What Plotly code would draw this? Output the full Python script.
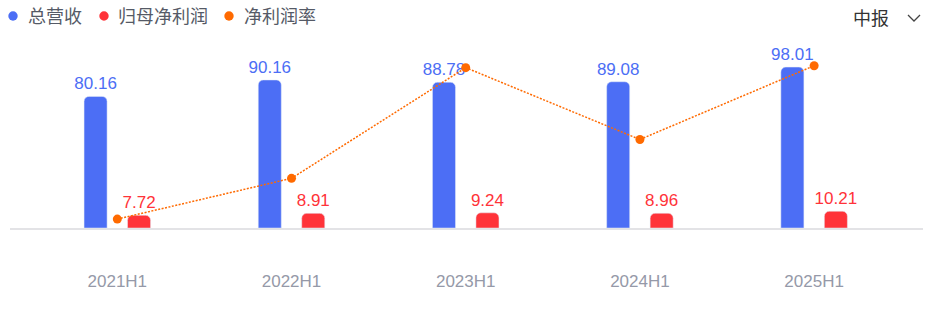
import plotly.graph_objects as go

categories = ["2021H1", "2022H1", "2023H1", "2024H1", "2025H1"]
revenue = [80.16, 90.16, 88.78, 89.08, 98.01]
net_profit = [7.72, 8.91, 9.24, 8.96, 10.21]
net_margin = [9.63, 9.84, 10.41, 10.04, 10.42]

legend_names = ["总营收", "归母净利润", "净利润率"]

BLUE = "#4C6EF5"
RED = "#FF3339"
ORANGE = "#FF6A00"
FONT = "Arial, Liberation Sans, Noto Sans CJK SC, sans-serif"

W, H = 925, 309
L, R, T, B = 10, 2, 30, 81
PW, PH = W - L - R, H - T - B

def px_x(px):
    return (px - L) / PW

def px_y(py):
    return (H - B - py) / PH

fig = go.Figure()
fig.add_trace(go.Bar(
    x=categories, y=revenue, name=legend_names[0], marker=dict(color=BLUE, cornerradius=5),
    texttemplate="%{y:.2f}", textposition="outside", constraintext="none",
    textfont=dict(color=BLUE, size=17, family=FONT), cliponaxis=False, showlegend=False,
))
fig.add_trace(go.Bar(
    x=categories, y=net_profit, name=legend_names[1], marker=dict(color=RED, cornerradius=5),
    texttemplate="%{y:.2f}", textposition="outside", constraintext="none",
    textfont=dict(color=RED, size=17, family=FONT), cliponaxis=False, showlegend=False,
))
fig.add_trace(go.Scatter(
    x=categories, y=net_margin, name=legend_names[2], yaxis="y2", mode="lines+markers",
    line=dict(color=ORANGE, width=1.5, dash="2px,1.5px"),
    marker=dict(color=ORANGE, size=9), showlegend=False, cliponaxis=False,
))

# manual legend
legend_dots = [13, 104, 229]
legend_text_x = [26, 116, 242]
legend_colors = [BLUE, RED, ORANGE]
shapes = []
annotations = []
for name, dx, tx, c in zip(legend_names, legend_dots, legend_text_x, legend_colors):
    shapes.append(dict(type="circle", xref="paper", yref="paper", xsizemode="pixel", ysizemode="pixel",
                       xanchor=px_x(dx), yanchor=px_y(16), x0=-4.7, x1=4.7, y0=-4.7, y1=4.7,
                       fillcolor=c, line=dict(width=0)))
    annotations.append(dict(text=name, xref="paper", yref="paper", x=px_x(tx), y=px_y(17),
                            xanchor="left", yanchor="middle", showarrow=False,
                            font=dict(size=18, color="#555a66", family=FONT)))

annotations.append(dict(text="中报", xref="paper", yref="paper", x=px_x(871), y=px_y(19),
                        xanchor="center", yanchor="middle", showarrow=False,
                        font=dict(size=18, color="#333333", family=FONT)))
shapes.append(dict(type="path", xref="paper", yref="paper",
                   path=f"M {px_x(908)} {px_y(15)} L {px_x(914)} {px_y(21)} L {px_x(920)} {px_y(15)}",
                   line=dict(color="#444444", width=1.3)))

fig.update_layout(
    width=W, height=H, margin=dict(l=L, r=R, t=T, b=B),
    paper_bgcolor="white", plot_bgcolor="white",
    barmode="group", bargap=0.5008, bargroupgap=0.47,
    shapes=shapes, annotations=annotations,
    xaxis=dict(range=[-0.616, 4.625], showgrid=False, zeroline=False, showline=True,
               linecolor="#e3e3e6", linewidth=1.5, ticks="", ticklabelstandoff=37,
               tickfont=dict(size=17, color="#9599a8", family=FONT)),
    yaxis=dict(range=[0, 120.6], visible=False, showgrid=False, zeroline=False),
    yaxis2=dict(range=[9.584, 10.604], overlaying="y", visible=False, showgrid=False, zeroline=False),
    showlegend=False,
)

fig.write_html("out.html")
